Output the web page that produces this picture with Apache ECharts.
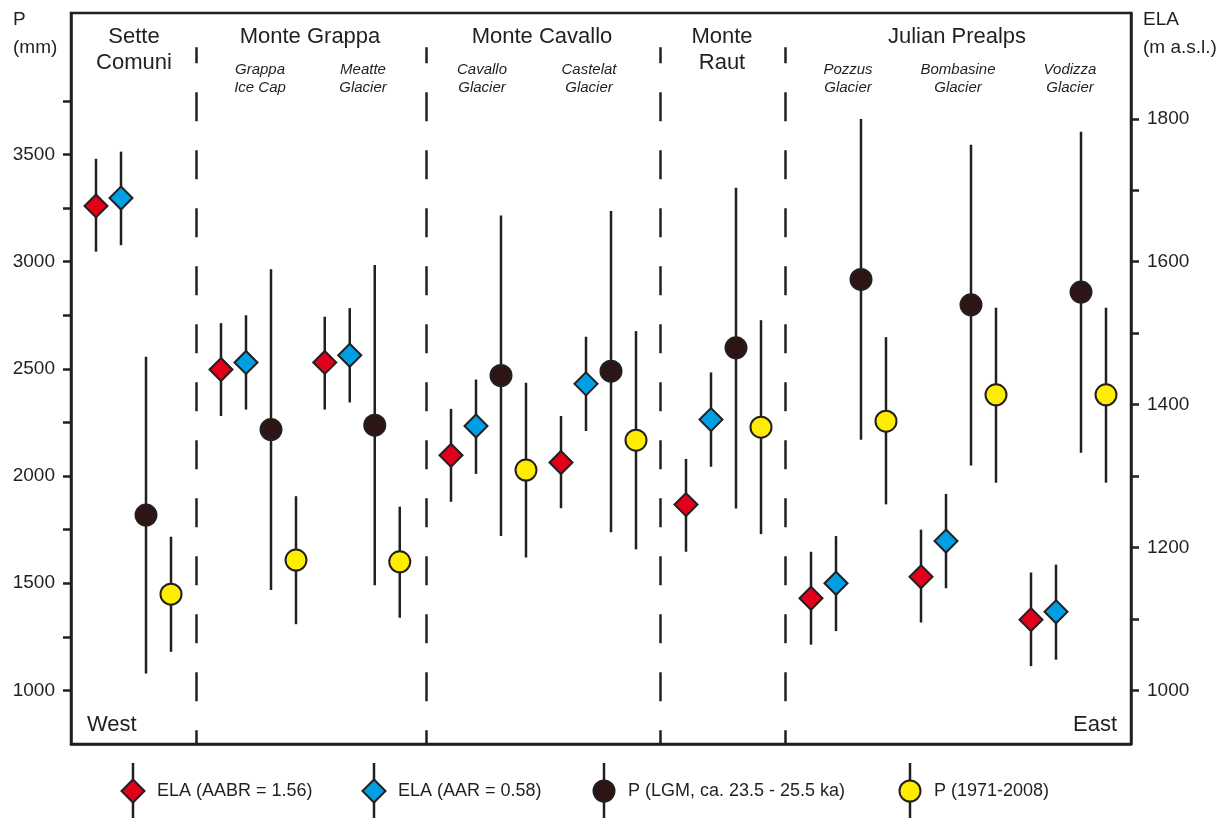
<!DOCTYPE html>
<html>
<head>
<meta charset="utf-8">
<script src="https://cdn.jsdelivr.net/npm/echarts@6/dist/echarts.min.js"></script>
<style>html,body{margin:0;padding:0;background:#fff;}#c{width:1231px;height:818px;}</style>
</head>
<body>
<div id="c"></div>
<script>
// ---- data ----
const sites = ['Sette Comuni', 'Grappa Ice Cap', 'Meatte Glacier', 'Cavallo Glacier', 'Castelat Glacier',
  'Monte Raut', 'Pozzus Glacier', 'Bombasine Glacier', 'Vodizza Glacier'];
// site positions along the west-east axis (site slots, with gaps between massifs)
const sitePos = [2.5, 7.5, 11.65, 16.7, 21.1, 26.1, 31.1, 35.5, 39.9];
const separators = [5.0, 14.2, 23.56, 28.56];

// ELA (m a.s.l.), AABR = 1.56
const elaAabr     = [1678, 1449, 1459, 1329, 1319, 1260, 1129, 1159, 1099];
const elaAabrLow  = [1614, 1384, 1393, 1264, 1255, 1194, 1064, 1095, 1034];
const elaAabrHigh = [1744, 1514, 1523, 1394, 1384, 1324, 1194, 1225, 1165];
// ELA (m a.s.l.), AAR = 0.58
const elaAar      = [1689, 1459, 1469, 1370, 1429, 1379, 1150, 1209, 1110];
const elaAarLow   = [1623, 1393, 1403, 1303, 1363, 1313, 1083, 1143, 1043];
const elaAarHigh  = [1754, 1525, 1535, 1435, 1495, 1445, 1216, 1275, 1176];
// P (mm), LGM ca. 23.5 - 25.5 ka
const pLgm        = [1818, 2217, 2237, 2469, 2489, 2598, 2917, 2799, 2858];
const pLgmLow     = [1079, 1468, 1491, 1720, 1738, 1849, 2169, 2049, 2109];
const pLgmHigh    = [2556, 2965, 2985, 3215, 3236, 3345, 3666, 3545, 3606];
// P (mm), 1971-2008
const pModern     = [1449, 1608, 1600, 2028, 2167, 2228, 2256, 2379, 2379];
const pModernLow  = [1180, 1309, 1339, 1620, 1658, 1729, 1868, 1969, 1969];
const pModernHigh = [1717, 1906, 1857, 2435, 2676, 2727, 2648, 2785, 2785];

const pTicks = [1000, 1250, 1500, 1750, 2000, 2250, 2500, 2750, 3000, 3250, 3500, 3750];
const pLabels = [1000, 1500, 2000, 2500, 3000, 3500];
const elaTicks = [1000, 1100, 1200, 1300, 1400, 1500, 1600, 1700, 1800];
const elaLabels = [1000, 1200, 1400, 1600, 1800];

const legendNames = ['ELA (AABR = 1.56)', 'ELA (AAR = 0.58)', 'P (LGM, ca. 23.5 - 25.5 ka)', 'P (1971-2008)'];

// ---- styling ----
const INK = '#231f20';
const FONT = '"Liberation Sans", Arial, sans-serif';
const COLORS = ['#e2001a', '#009fe3', '#2e1515', '#ffed00'];
const OFFSETS = [-1.5, -0.5, 0.5, 1.5];

function pts(vals, k) { return vals.map((v, i) => [sitePos[i] + OFFSETS[k], v]); }
function bars(lo, hi, k) { return lo.map((v, i) => [sitePos[i] + OFFSETS[k], v, hi[i]]); }

function whisker(params, api) {
  const x = api.value(0);
  const a = api.coord([x, api.value(1)]);
  const b = api.coord([x, api.value(2)]);
  return { type: 'line', shape: { x1: a[0], y1: a[1], x2: b[0], y2: b[1] },
    style: { stroke: INK, lineWidth: 2.5 } };
}
function whiskerSeries(lo, hi, k, yAxisIndex) {
  return { type: 'custom', yAxisIndex: yAxisIndex, renderItem: whisker, silent: true, z: 1,
    encode: { x: 0, y: [1, 2] }, data: bars(lo, hi, k) };
}
function markerSeries(name, vals, k, yAxisIndex, symbol, size) {
  return { name: name, type: 'scatter', yAxisIndex: yAxisIndex, symbol: symbol, symbolSize: size, z: 3,
    itemStyle: { color: COLORS[k], borderColor: INK, borderWidth: 2, opacity: 1 },
    data: pts(vals, k) };
}

const sepSeries = {
  type: 'scatter', data: [], yAxisIndex: 0, silent: true,
  markLine: {
    silent: true, symbol: ['none', 'none'], label: { show: false },
    lineStyle: { color: INK, width: 2.5, type: [29, 29], dashOffset: 13 },
    data: separators.map(x => [{ coord: [x, 4000] }, { coord: [x, 750] }])
  }
};

// ---- annotations (text) ----
function txt(x, y, s, opt) {
  return Object.assign({ type: 'text', x: x, y: y, silent: true,
    style: Object.assign({ text: s, fill: INK, font: '22px ' + FONT, textAlign: 'center', textVerticalAlign: 'middle' }, opt || {}) });
}
const groupTitles = [
  [134, 37, 'Sette'], [134, 63, 'Comuni'], [310, 37, 'Monte Grappa'], [542, 37, 'Monte Cavallo'],
  [722, 37, 'Monte'], [722, 63, 'Raut'], [957, 37, 'Julian Prealps']
];
const glacierTitles = [
  [260, 'Grappa', 'Ice Cap'], [363, 'Meatte', 'Glacier'], [482, 'Cavallo', 'Glacier'], [589, 'Castelat', 'Glacier'],
  [848, 'Pozzus', 'Glacier'], [958, 'Bombasine', 'Glacier'], [1070, 'Vodizza', 'Glacier']
];
const graphics = [];
groupTitles.forEach(g => graphics.push(txt(g[0], g[1], g[2])));
glacierTitles.forEach(g => {
  graphics.push(txt(g[0], 70, g[1], { font: 'italic 15px ' + FONT }));
  graphics.push(txt(g[0], 88, g[2], { font: 'italic 15px ' + FONT }));
});
graphics.push(txt(87, 725, 'West', { textAlign: 'left' }));
graphics.push(txt(1117, 725, 'East', { textAlign: 'right' }));
graphics.push(txt(13, 20, 'P', { textAlign: 'left', font: '19px ' + FONT }));
graphics.push(txt(13, 48, '(mm)', { textAlign: 'left', font: '19px ' + FONT }));
graphics.push(txt(1143, 20, 'ELA', { textAlign: 'left', font: '19px ' + FONT }));
graphics.push(txt(1143, 48, '(m a.s.l.)', { textAlign: 'left', font: '19px ' + FONT }));

// legend
const legendX = [133, 374, 604, 910];
const LY = 791;
legendNames.forEach((name, k) => {
  const x = legendX[k];
  graphics.push({ type: 'line', silent: true, z: 10, shape: { x1: x, y1: 763, x2: x, y2: 818 },
    style: { stroke: INK, lineWidth: 2.5 } });
  if (k < 2) {
    graphics.push({ type: 'polygon', silent: true, z: 11,
      shape: { points: [[x, LY - 11.5], [x + 11.5, LY], [x, LY + 11.5], [x - 11.5, LY]] },
      style: { fill: COLORS[k], stroke: INK, lineWidth: 2 } });
  } else {
    graphics.push({ type: 'circle', silent: true, z: 11, shape: { cx: x, cy: LY, r: 10.5 },
      style: { fill: COLORS[k], stroke: INK, lineWidth: 2 } });
  }
  graphics.push(txt(x + 24, LY, name, { textAlign: 'left', font: '18px ' + FONT }));
});

const plain = v => String(v);
const chart = echarts.init(document.getElementById('c'), null, { renderer: 'canvas' });
chart.setOption({
  backgroundColor: '#ffffff',
  animation: false,
  grid: { left: 71, right: 100, top: 13, bottom: 74, show: true, borderColor: INK, borderWidth: 2.5, backgroundColor: 'transparent' },
  xAxis: {
    type: 'value', min: 0, max: 42.4, show: true,
    axisLine: { show: true, lineStyle: { color: INK, width: 2.5 } },
    axisTick: { show: false }, axisLabel: { show: false }, splitLine: { show: false }
  },
  yAxis: [
    {
      type: 'value', position: 'left', min: 750, max: 4160,
      axisLine: { show: true, lineStyle: { color: INK, width: 2.5 } },
      axisTick: { show: true, length: 8, lineStyle: { color: INK, width: 2.5 }, customValues: pTicks },
      axisLabel: { show: true, margin: 16, color: INK, fontSize: 19, fontFamily: FONT, customValues: pLabels, formatter: plain },
      splitLine: { show: false }
    },
    {
      type: 'value', position: 'right', min: 925, max: 1948,
      axisLine: { show: true, lineStyle: { color: INK, width: 2.5 } },
      axisTick: { show: true, length: 8, lineStyle: { color: INK, width: 2.5 }, customValues: elaTicks },
      axisLabel: { show: true, margin: 16, color: INK, fontSize: 19, fontFamily: FONT, customValues: elaLabels, formatter: plain },
      splitLine: { show: false }
    }
  ],
  series: [
    sepSeries,
    whiskerSeries(elaAabrLow, elaAabrHigh, 0, 1),
    whiskerSeries(elaAarLow, elaAarHigh, 1, 1),
    whiskerSeries(pLgmLow, pLgmHigh, 2, 0),
    whiskerSeries(pModernLow, pModernHigh, 3, 0),
    markerSeries(legendNames[0], elaAabr, 0, 1, 'diamond', 23),
    markerSeries(legendNames[1], elaAar, 1, 1, 'diamond', 23),
    markerSeries(legendNames[2], pLgm, 2, 0, 'circle', 21),
    markerSeries(legendNames[3], pModern, 3, 0, 'circle', 21)
  ],
  graphic: graphics
});
</script>
</body>
</html>
